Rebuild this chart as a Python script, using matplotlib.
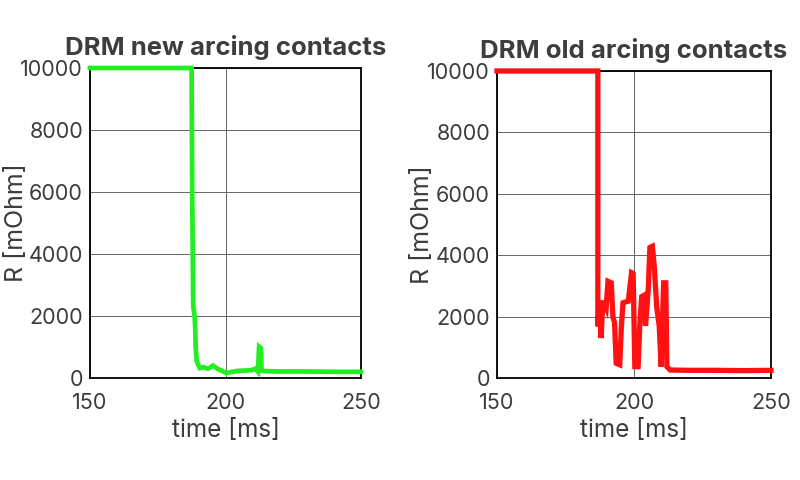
import matplotlib.pyplot as plt

plt.rcParams["font.family"] = ["Inter", "DejaVu Sans"]

# new contacts (green)
t_new = [150, 187.5, 187.7, 188.1, 188.3, 188.6, 188.8, 189.0, 189.4, 190.5,
         191.8, 193.5, 195.4, 197.0, 198.5, 200.4, 202.5, 204.6, 207.0, 209.5,
         211.0, 212.0, 212.4, 213.1, 213.3, 215.0, 220, 230, 240, 250]
r_new = [10000, 10000, 6000, 2300, 2200, 2000, 1650, 1000, 530, 320,
         350, 300, 400, 300, 240, 160, 200, 230, 240, 250,
         300, 200, 1010, 960, 240, 220, 210, 210, 200, 200]

# old contacts (red)
t_old = [150, 186.8, 186.8, 187.4, 188.0, 188.6, 189.2, 189.85, 190.5, 191.7,
         192.3, 192.9, 193.5, 194.8, 195.4, 196.0, 197.9, 199.1, 199.7, 200.3,
         201.5, 202.1, 202.8, 203.8, 204.2, 205.2, 205.8, 206.7, 207.4, 208.3,
         209.2, 209.9, 210.8, 211.6, 212.0, 213.2, 220, 230, 240, 250]
r_old = [10000, 10000, 1680, 2500, 1300, 2450, 2450, 2300, 3150, 3100,
         2000, 1800, 480, 430, 1700, 2450, 2500, 3430, 3400, 370,
         370, 1700, 2650, 2700, 1700, 2870, 4250, 4290, 3640, 2300,
         1700, 370, 3100, 3100, 370, 260, 250, 250, 240, 250]

xticks = [150, 200, 250]
yticks = [0, 2000, 4000, 6000, 8000, 10000]

fig = plt.figure(figsize=(8, 4.8), dpi=100)
ax1 = fig.add_axes([90 / 800, 1 - 378 / 480, 271 / 800, 310 / 480])
ax2 = fig.add_axes([497 / 800, 1 - 378 / 480, 274 / 800, 307 / 480])

panels = [
    (ax1, t_new, r_new, "#22ee22", 3.4, "DRM new arcing contacts"),
    (ax2, t_old, r_old, "#ff1111", 3.8, "DRM old arcing contacts"),
]

for ax, t, r, color, lw, title in panels:
    ax.plot(t, r, color=color, lw=lw, solid_joinstyle="miter", clip_on=False, zorder=3)
    ax.set_xlim(150, 250)
    ax.set_ylim(0, 10000)
    ax.set_xticks(xticks)
    ax.set_yticks(yticks)
    ax.grid(True, color="#666666", lw=0.7)
    ax.tick_params(length=0, labelsize=15.5, labelcolor="#3c3c3c")
    ax.tick_params(axis="x", pad=11)
    ax.tick_params(axis="y", pad=5)
    for s in ax.spines.values():
        s.set_color("black")
        s.set_linewidth(1.3)
    ax.set_title(title, fontsize=18.5, fontweight="bold", color="#3d3d3d", pad=9.5)
    ax.set_xlabel("time [ms]", fontsize=17.5, color="#3c3c3c", labelpad=4)
    ax.set_ylabel("R [mOhm]", fontsize=18, color="#3c3c3c")
    ax.yaxis.set_label_coords(-0.23, 0.5)

fig.savefig("out.png", dpi=100)
